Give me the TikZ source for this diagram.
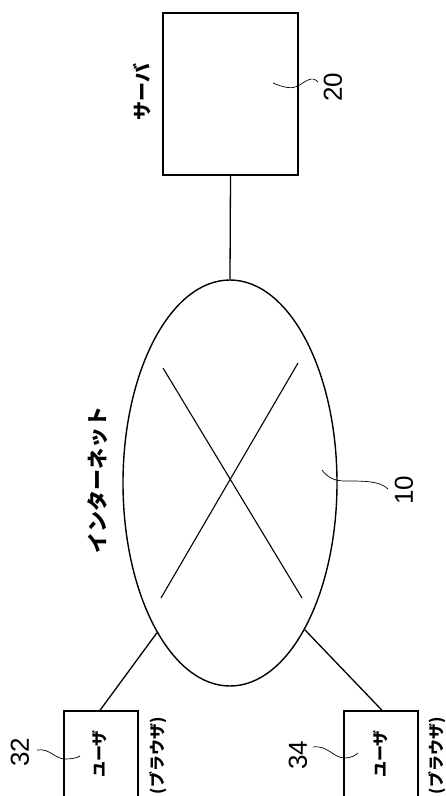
\documentclass[tikz,border=0pt]{standalone}
\usepackage{fontspec}
\setsansfont{Liberation Sans}
\newfontfamily\jp{Noto Sans CJK JP}
\usetikzlibrary{shapes.geometric}
\begin{document}
\begin{tikzpicture}[x=1pt,y=-1pt,
  box/.style={draw,line width=1.4pt,rectangle,inner sep=0pt},
  link/.style={line width=1.3pt},
  leader/.style={line width=0.7pt},
  jplab/.style={font=\jp\bfseries,rotate=90,inner sep=0pt},
  numlab/.style={font=\sffamily\fontsize{26}{26}\selectfont,rotate=90,inner sep=0pt}]
\useasboundingbox (0,0) rectangle (445,796);
\clip (0,0) rectangle (445,796);
% nodes
\node[box,minimum width=135pt,minimum height=162pt] (server) at (230.5,94) {};
\node[draw,line width=1.4pt,ellipse,inner sep=0pt,minimum width=214pt,minimum height=406pt] (net) at (230,483) {};
\node[box,minimum width=74pt,minimum height=120pt] (u32) at (101,771) {};
\node[box,minimum width=74pt,minimum height=120pt] (u34) at (381,771) {};
% connectors
\draw[link] (server.south) -- (net.north);
\draw[link] (net.244) -- ([xshift=-1pt]u32.north);
\draw[link] (net.297.5) -- ([xshift=1pt]u34.north);
% cross inside network
\draw[line width=1.1pt] (163,368) -- (302,598);
\draw[line width=1.1pt] (298,363) -- (161,598);
% texts
\node[jplab,font=\jp\bfseries\fontsize{19}{19}\selectfont] (tserver) at (142,92) {サーバ};
\node[jplab,font=\jp\bfseries\fontsize{21}{21}\selectfont] (tnet) at (98,480) {インターネット};
\node[jplab,font=\jp\bfseries\fontsize{16}{16}\selectfont] (tu32) at (100,754) {ユーザ};
\node[jplab,font=\jp\bfseries\fontsize{16}{16}\selectfont] (tu34) at (381,754) {ユーザ};
\node[jplab,font=\jp\bfseries\fontsize{16}{16}\selectfont,anchor=east] (tb32) at (158,717) {(ブラウザ)};
\node[jplab,font=\jp\bfseries\fontsize{16}{16}\selectfont,anchor=east] (tb34) at (437,717) {(ブラウザ)};
% reference numerals
\node[numlab] (n20) at (333,87) {20};
\node[numlab] (n10) at (404,490) {10};
\node[numlab] (n32) at (20,752) {32};
\node[numlab] (n34) at (298,755) {34};
% leaders
\draw[leader] (273,83) .. controls (285,88) and (292,89) .. (298,86) .. controls (305,82) and (312,75) .. (318,82);
\draw[leader] (322,470) .. controls (328,478) and (335,481) .. (345,481) .. controls (365,481) and (380,481) .. (388,489);
\draw[leader] (37,750) .. controls (50,748) and (55,759) .. (65,759) .. controls (72,759) and (77,758) .. (80,756);
\draw[leader] (313,747) .. controls (328,745) and (333,758) .. (345,758) .. controls (351,758) and (356,755) .. (358,753);
\end{tikzpicture}
\end{document}
